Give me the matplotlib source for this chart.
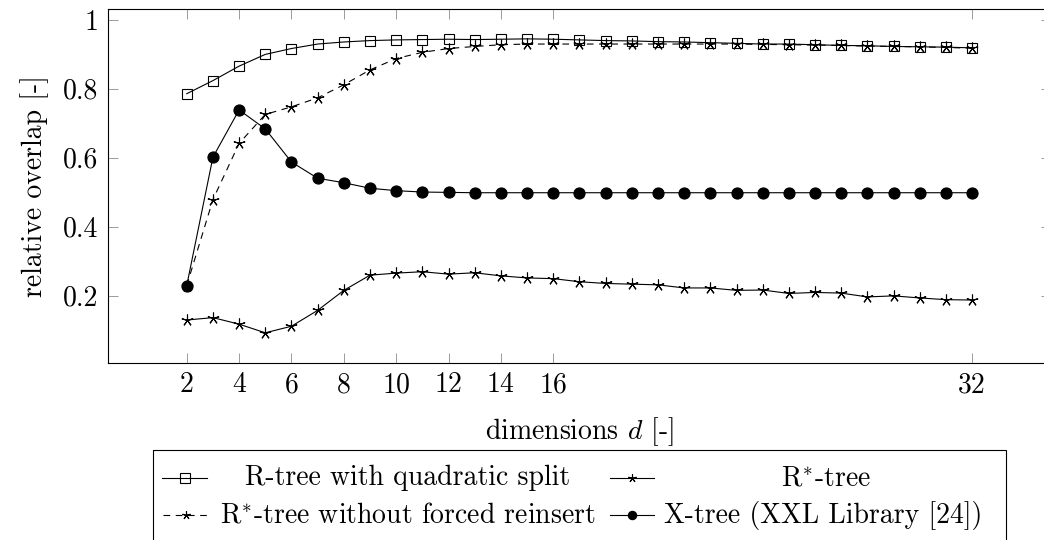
import numpy as np
import matplotlib.pyplot as plt
from matplotlib.patches import Rectangle

plt.rcParams['font.family'] = 'serif'
plt.rcParams['font.serif'] = ['cmr10']
plt.rcParams['mathtext.fontset'] = 'cm'
plt.rcParams['axes.formatter.use_mathtext'] = True

dims = np.arange(2, 33)

rtree_quadratic = [0.785, 0.823, 0.865, 0.899, 0.916, 0.929, 0.935, 0.939, 0.941, 0.942,
                   0.943, 0.942, 0.943, 0.944, 0.943, 0.941, 0.939, 0.938, 0.936, 0.935,
                   0.933, 0.931, 0.929, 0.929, 0.927, 0.925, 0.924, 0.922, 0.921, 0.920,
                   0.918]
rstar = [0.129, 0.136, 0.117, 0.092, 0.111, 0.157, 0.215, 0.259, 0.265, 0.269,
         0.262, 0.266, 0.257, 0.251, 0.249, 0.240, 0.235, 0.233, 0.231, 0.222,
         0.222, 0.215, 0.216, 0.206, 0.209, 0.207, 0.196, 0.199, 0.193, 0.188,
         0.187]
rstar_no_reinsert = [0.229, 0.478, 0.641, 0.725, 0.747, 0.773, 0.811, 0.854, 0.887, 0.905,
                     0.916, 0.922, 0.927, 0.929, 0.929, 0.929, 0.929, 0.929, 0.929, 0.929,
                     0.929, 0.929, 0.928, 0.927, 0.926, 0.925, 0.923, 0.922, 0.921, 0.919,
                     0.917]
xtree = [0.229, 0.601, 0.738, 0.683, 0.587, 0.540, 0.527, 0.511, 0.504, 0.500,
         0.499, 0.498, 0.498, 0.498, 0.498, 0.498, 0.498, 0.498, 0.498, 0.498,
         0.498, 0.498, 0.498, 0.498, 0.498, 0.498, 0.498, 0.498, 0.498, 0.498,
         0.498]

labels = ['R-tree with quadratic split', 'R$^{*}$-tree',
          'R$^{*}$-tree without forced reinsert', 'X-tree (XXL Library [24])']
xticks = [2, 4, 6, 8, 10, 12, 14, 16, 32]
yticks = [0.2, 0.4, 0.6, 0.8, 1.0]
ytick_labels = ['0.2', '0.4', '0.6', '0.8', '1']

FS = 20
asterisk = (5, 2, 0)
styles = [
    dict(ls='-', marker='s', ms=7.8, mfc='none', mec='black', mew=0.8),
    dict(ls='-', marker=asterisk, ms=8.5, mec='black', mew=0.8),
    dict(ls=(0, (6, 5)), marker=asterisk, ms=8.5, mec='black', mew=0.8),
    dict(ls='-', marker='o', ms=8.0, mfc='black', mec='black', mew=0.8),
]
series = [rtree_quadratic, rstar, rstar_no_reinsert, xtree]

W, H = 1044, 540
fig = plt.figure(figsize=(W / 100, H / 100), dpi=100)
# the right edge of the axes lies just past the figure border
ax = fig.add_axes([108.2 / W, (H - 362.6) / H, (1050.7 - 108.2) / W, 353.4 / H])

for vals, st in zip(series, styles):
    ax.plot(dims, vals, color='black', lw=0.8, **st)

ax.set_xlim(-1, 35)
ax.set_ylim(0.0056, 1.030)
ax.set_xticks(xticks)
ax.set_xticklabels([str(t) for t in xticks])
ax.set_yticks(yticks)
ax.set_yticklabels(ytick_labels)
ax.tick_params(direction='in', length=7.5, width=0.6, color='0.55',
               top=True, right=True, labelsize=FS)
ax.tick_params(axis='x', pad=6.6)
ax.tick_params(axis='y', pad=7)
for sp in ax.spines.values():
    sp.set_linewidth(0.8)
ax.spines['right'].set_visible(False)

ax.set_xlabel('dimensions $d$ [-]', fontsize=FS, labelpad=12)
ax.set_ylabel('relative overlap [-]', fontsize=FS, labelpad=10)

# legend drawn by hand so that entries are centred in their columns
lg = fig.add_axes([0, 0, 1, 1], zorder=5)
lg.set_xlim(0, W)
lg.set_ylim(H, 0)
lg.axis('off')
lg.add_patch(Rectangle((153, 450), 1006 - 153, 120, fill=False, ec='black', lw=0.8,
                       clip_on=False))

handle_x = [(162, 207), (610, 654), (163, 208), (610, 654)]
text_x = [408, 826, 408, 823]
row_y = [478, 478, 515, 515]
leg_ms = [6.5, 6.0, 6.0, 6.0]
for i, st in enumerate(styles):
    x0, x1 = handle_x[i]
    y = row_y[i]
    marker_style = {k: v for k, v in st.items() if k != 'ls'}
    marker_style['ms'] = leg_ms[i]
    lg.plot([x0, x1], [y, y], color='black', lw=0.8, ls=st['ls'])
    lg.plot([(x0 + x1) / 2], [y], color='black', ls='none', **marker_style)
    lg.text(text_x[i], y, labels[i], ha='center', va='center', fontsize=FS)

fig.savefig('out.png', dpi=100)
